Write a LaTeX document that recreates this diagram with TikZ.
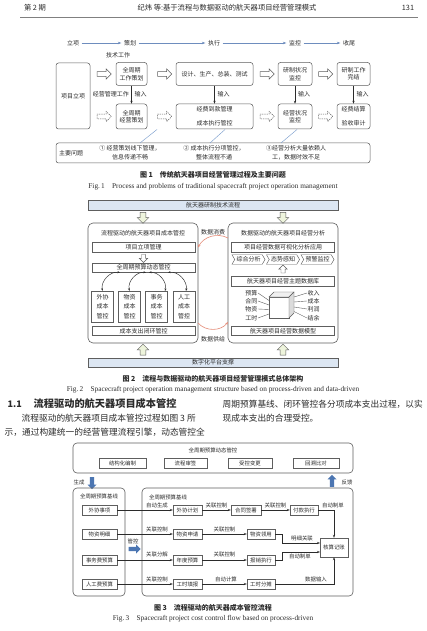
\documentclass[tikz,border=0pt]{standalone}
\usepackage{fontspec}
\setmainfont{Noto Sans CJK SC}
\newfontfamily\enf{Liberation Serif}
\usetikzlibrary{shapes.arrows,shapes.symbols,arrows.meta}
\definecolor{bordc}{HTML}{5E5E5E}
\definecolor{flowblue}{HTML}{6E8DBE}
\definecolor{barblue}{HTML}{DCE6F2}
\definecolor{arrgreen}{HTML}{EEF4DC}
\definecolor{arcred}{HTML}{E58A76}
\definecolor{fatblue}{HTML}{4C76B2}
\definecolor{linkblue}{HTML}{7FA0CF}
\definecolor{txtc}{HTML}{2B2B2B}
\newcommand{\fsa}{\fontsize{6pt}{7.4pt}\selectfont}
\newcommand{\fsb}{\fontsize{5.4pt}{6.6pt}\selectfont}
\newcommand{\fsc}{\fontsize{6pt}{9.6pt}\selectfont}
\newcommand{\fsp}{\fontsize{6pt}{9pt}\selectfont}
\newcommand{\fcap}{\bfseries\fontsize{7pt}{8.4pt}\selectfont}
\newcommand{\fen}{\enf\fontsize{7.3pt}{8.6pt}\selectfont}
\newcommand{\fbody}{\fontsize{8.7pt}{10pt}\selectfont}
\newcommand{\fhead}{\fontsize{7.3pt}{8pt}\selectfont}
\begin{document}
\begin{tikzpicture}[x=1pt,y=-1pt,
  txt/.style={text=txtc, inner sep=0.5pt, align=center, font=\fsa},
  stxt/.style={text=txtc, inner sep=0.3pt, align=center, font=\fsb},
  rbox/.style={draw=bordc, line width=0.5pt, rounded corners=2.5pt, align=center, inner sep=0pt, text=txtc, font=\fsa},
  bigbox/.style={draw=bordc, line width=0.6pt, rounded corners=5pt, inner sep=0pt},
  sbox/.style={draw=bordc, line width=0.45pt, align=center, inner sep=0pt, text=txtc, font=\fsa},
  harr/.style={single arrow, draw=bordc, fill=white, line width=0.45pt, inner sep=0pt, inner ysep=2.2pt, single arrow head extend=2.6pt, minimum height=14pt},
  darr/.style={harr, dash pattern=on 1.3pt off 0.9pt},
  garr/.style={harr, fill=arrgreen, minimum height=11pt, inner ysep=2.6pt, single arrow head extend=3pt},
  warr/.style={harr, minimum height=8pt, inner ysep=1.8pt, single arrow head extend=2.2pt},
  farr/.style={single arrow, fill=fatblue, draw=none, inner sep=0pt, inner ysep=2pt, single arrow head extend=2.3pt, minimum height=12pt},
  flow/.style={draw=flowblue, line width=0.5pt, shorten <=2pt, shorten >=2pt, -{Stealth[length=3.5pt,width=2.6pt]}},
  arr/.style={draw=txtc, line width=0.45pt, -{Stealth[length=3pt,width=2.2pt]}},
  dblarr/.style={draw=txtc, line width=0.45pt, {Stealth[length=2.6pt,width=2pt]}-{Stealth[length=2.6pt,width=2pt]}},
  redarc/.style={draw=arcred, line width=0.6pt, -{Stealth[length=3pt,width=2.4pt]}},
  chev/.style={signal, signal to=east, signal from=west, draw=bordc, line width=0.45pt, inner sep=0.5pt, minimum width=33pt, minimum height=9.5pt, signal pointer angle=120, text=txtc, font=\fsa},
  thin/.style={draw=bordc, line width=0.4pt}
]
\useasboundingbox (0,0) rectangle (427,631);
\fill[white] (0,0) rectangle (427,631);

% ---------- header
\node[txt, font=\fhead] (hd1) at (35,8) {第 2 期};
\node[txt, font=\fhead] (hd2) at (227,8) {纪炜\ 等:基于流程与数据驱动的航天器项目经营管理模式};
\node[txt, font=\fhead] (hd3) at (408,8) {131};
\coordinate (rl1) at (20,17.5); \coordinate (rl2) at (418,17.5);
\draw[line width=0.7pt, draw=gray] (rl1) -- (rl2);

% ---------- Fig 1
\node[txt] (st1) at (73,43) {立项};
\node[txt] (st2) at (130,43) {策划};
\node[txt] (st3) at (214,43) {执行};
\node[txt] (st4) at (295,43) {监控};
\node[txt] (st5) at (349,43) {收尾};
\draw[flow] (st1) -- (st2);
\draw[flow] (st2) -- (st3);
\draw[flow] (st3) -- (st4);
\draw[flow] (st4) -- (st5);
\node[txt] (jsgz) at (118,55) {技术工作};

\node[rbox, minimum width=34pt, minimum height=66pt] (xmlx) at (73,96) {项目立项};
\node[rbox, minimum width=31pt, minimum height=23pt] (a1) at (131.5,74) {全周期\\工作策划};
\node[rbox, minimum width=77pt, minimum height=23pt] (a2) at (214.5,74) {设计、生产、总装、测试};
\node[rbox, minimum width=34pt, minimum height=23pt] (a3) at (295,74) {研制状况\\监控};
\node[rbox, minimum width=33pt, minimum height=23pt] (a4) at (353.5,74) {研制工作\\完结};
\node[rbox, minimum width=31pt, minimum height=25pt] (b1) at (131.5,116.5) {全周期\\经营策划};
\node[rbox, minimum width=77pt, minimum height=25pt] (b2) at (214.5,116.5) {经费到款管理\\[6.5pt]成本执行管控};
\node[rbox, minimum width=34pt, minimum height=25pt] (b3) at (295,116.5) {经营状况\\监控};
\node[rbox, minimum width=33pt, minimum height=25pt] (b4) at (353.5,116.5) {经费结算\\[6.5pt]验收审计};

\node[harr] (h1) at (103,74) {};
\node[harr] (h2) at (163.5,74) {};
\node[harr] (h3) at (266,74) {};
\node[harr] (h4) at (324.5,74) {};
\node[darr] (d1) at (103,116.5) {};
\node[darr] (d2) at (163.5,116.5) {};
\node[darr] (d3) at (266,116.5) {};
\node[darr] (d4) at (324.5,116.5) {};

\draw[arr] (a1) -- (b1);
\draw[arr] (a2) -- (b2);
\draw[arr] (a3) -- (b3);
\draw[arr] (a4) -- (b4);
\node[txt, anchor=east] (jygl) at (129.5,94.5) {经营管理工作};
\node[txt, anchor=west] (sr1) at (134,94.5) {输入};
\node[txt, anchor=west] (sr2) at (217,94.5) {输入};
\node[txt, anchor=west] (sr3) at (297.5,94.5) {输入};
\node[txt, anchor=west] (sr4) at (356,94.5) {输入};

\node[rbox, minimum width=314pt, minimum height=20pt] (prob) at (213,153) {};
\node[txt] (zywt) at (71,153) {主要问题};
\node[txt, font=\fsp] (pr1) at (130,153) {① 经营策划线下管理，\\信息传递不畅};
\node[txt, font=\fsp] (pr2) at (214,153) {② 成本执行分项管控，\\整体流程不通};
\node[txt, font=\fsp] (pr3) at (296,153) {③经营分析大量依赖人\\工，数据时效不足};
\coordinate (q1) at (157,129.5); \coordinate (q1b) at (140,143);
\coordinate (q2) at (225,129.5); \coordinate (q2b) at (210,143);
\coordinate (q3) at (297,129.5); \coordinate (q3b) at (281,143);
\draw[linkblue, line width=0.45pt] (q1) -- (q1b);
\draw[linkblue, line width=0.45pt] (q2) -- (q2b);
\draw[linkblue, line width=0.45pt] (q3) -- (q3b);

\node[txt, font=\fcap] (cap1) at (213,175) {图 1\quad 传统航天器项目经营管理过程及主要问题};
\node[txt, font=\fen] (cap1e) at (213,187) {Fig.\,1\quad Process and problems of traditional spacecraft project operation management};

% ---------- Fig 2
\node[sbox, fill=barblue, minimum width=250pt, minimum height=10pt] (tbar) at (213,205) {航天器研制技术流程};
\node[garr, rotate=-90] (g1) at (143,216.5) {};
\node[garr, rotate=-90] (g2) at (283,216.5) {};

\node[bigbox, minimum width=110pt, minimum height=120pt] (LB2) at (143,283) {};
\node[txt] (lt) at (143,233) {流程驱动的航天器项目成本管控};
\node[sbox, minimum width=103pt, minimum height=9.5pt] (r1) at (143.5,247) {项目立项管理};
\node[warr, rotate=-90] (sa1) at (143.5,257.5) {};
\node[sbox, minimum width=103pt, minimum height=9.5pt] (r2) at (143.5,267.5) {全周期预算动态管控};
\node[sbox, font=\fsc, minimum width=22pt, minimum height=31pt] (c1) at (102.5,306.5) {外协\\成本\\管控};
\node[sbox, font=\fsc, minimum width=22pt, minimum height=31pt] (c2) at (129.5,306.5) {物资\\成本\\管控};
\node[sbox, font=\fsc, minimum width=22pt, minimum height=31pt] (c3) at (156.5,306.5) {事务\\成本\\管控};
\node[sbox, font=\fsc, minimum width=22pt, minimum height=31pt] (c4) at (184,306.5) {人工\\成本\\管控};
\coordinate (k1) at (120,272.5);
\coordinate (k2) at (146,272.5);
\coordinate (k3) at (149,272.5);
\coordinate (k4) at (168,272.5);
\coordinate (e3) at (165,291);
\coordinate (e4) at (186,291);
\draw[dblarr] (c1.north) to[bend left=55] (k1);
\draw[dblarr] (c2.north) to[bend left=55] (k2);
\draw[dblarr] (k3) to[bend left=55] (e3);
\draw[dblarr] (k4) to[bend left=55] (e4);
\node[sbox, minimum width=103pt, minimum height=9pt] (r3) at (143.5,331) {成本支出闭环管控};

\node[bigbox, minimum width=110pt, minimum height=120pt] (RB2) at (283,283) {};
\node[txt] (rt) at (283,233) {数据驱动的航天器项目经营分析};
\node[sbox, minimum width=103pt, minimum height=9.5pt] (s1) at (283,247) {项目经营数据可视化分析应用};
\node[chev] (ch1) at (248.5,259.5) {综合分析};
\node[chev] (ch2) at (283,259.5) {态势感知};
\node[chev] (ch3) at (317.5,259.5) {预警监控};
\node[warr, rotate=90] (sa2) at (283,270) {};
\node[sbox, minimum width=103pt, minimum height=9.5pt] (s2) at (283,281) {航天器项目经营主题数据库};
% cube
\coordinate (cA) at (269,297); \coordinate (cB) at (289,297); \coordinate (cC) at (289,318); \coordinate (cD) at (269,318);
\coordinate (cE) at (274,292); \coordinate (cF) at (294,292); \coordinate (cG) at (294,313);
\filldraw[fill=white, thin] (cA) -- (cB) -- (cC) -- (cD) -- cycle;
\filldraw[fill=gray!12, thin] (cA) -- (cE) -- (cF) -- (cB) -- cycle;
\filldraw[fill=gray!28, thin] (cB) -- (cF) -- (cG) -- (cC) -- cycle;
\node[txt, anchor=east] (ys) at (258,293) {预算};
\node[txt, anchor=east] (ht) at (258,301) {合同};
\node[txt, anchor=east] (wz) at (258,309) {物资};
\node[txt, anchor=east] (gs) at (258,318) {工时};
\coordinate (cl1) at (269,300.5); \coordinate (cl2) at (269,305);
\coordinate (cl3) at (269,309.5); \coordinate (cl4) at (269,314);
\draw[thin] (ys.east) -- (cl1);
\draw[thin] (ht.east) -- (cl2);
\draw[thin] (wz.east) -- (cl3);
\draw[thin] (gs.east) -- (cl4);
\node[txt, anchor=west] (sr) at (307,293) {收入};
\node[txt, anchor=west] (cb) at (307,301) {成本};
\node[txt, anchor=west] (lr) at (307,309) {利润};
\node[txt, anchor=west] (jy) at (307,318) {结余};
\coordinate (cr1) at (294,297); \coordinate (cr2) at (294,302);
\coordinate (cr3) at (294,307); \coordinate (cr4) at (294,311.5);
\draw[thin] (cr1) -- (sr.west);
\draw[thin] (cr2) -- (cb.west);
\draw[thin] (cr3) -- (lr.west);
\draw[thin] (cr4) -- (jy.west);
\node[sbox, minimum width=103pt, minimum height=9pt] (s3) at (283,331) {航天器项目经营数据模型};

\coordinate (x1) at (228,238); \coordinate (x2) at (198,247.5);
\coordinate (x3) at (198,323); \coordinate (x4) at (228,322);
\draw[redarc] (x1) to[bend right=45] (x2);
\draw[redarc] (x3) to[bend right=50] (x4);
\node[txt] (sjxf) at (213,232) {数据消费};
\node[txt] (sjgj) at (213,339) {数据供给};

\node[garr, rotate=90] (g3) at (143,351) {};
\node[garr, rotate=90] (g4) at (283,351) {};
\node[sbox, fill=barblue, minimum width=250pt, minimum height=9.5pt] (bbar) at (213,362.5) {数字化平台支撑};

\node[txt, font=\fcap] (cap2) at (213,379) {图 2\quad 流程与数据驱动的航天器项目经营管理模式总体架构};
\node[txt, font=\fen] (cap2e) at (213,390) {Fig.\,2\quad Spacecraft project operation management structure based on process-driven and data-driven};

% ---------- body text
\node[txt, anchor=west, font=\bfseries\fontsize{9pt}{10pt}\selectfont] (sec) at (7,404) {1.1};
\node[txt, anchor=west, font=\bfseries\fontsize{10.2pt}{11pt}\selectfont] (sect) at (33,404) {流程驱动的航天器项目成本管控};
\node[txt, anchor=west, font=\fbody] (bl2) at (21,418) {流程驱动的航天器项目成本管控过程如图 3 所};
\node[txt, anchor=west, font=\fbody] (bl3) at (4,432) {示，通过构建统一的经营管理流程引擎，动态管控全};
\node[txt, anchor=west, font=\fbody] (br1) at (222,404) {周期预算基线、闭环管控各分项成本支出过程，以实};
\node[txt, anchor=west, font=\fbody] (br2) at (222,418) {现成本支出的合理受控。};

% ---------- Fig 3
\node[bigbox, rounded corners=4pt, minimum width=280pt, minimum height=30pt] (T3) at (213,458) {};
\node[txt, font=\fsb] (t3t) at (213,450) {全周期预算动态管控};
\node[sbox, font=\fsb, minimum width=47pt, minimum height=10pt] (u1) at (122.5,463) {结构化编制};
\node[sbox, font=\fsb, minimum width=43pt, minimum height=10pt] (u2) at (185.5,463) {流程审签};
\node[sbox, font=\fsb, minimum width=44pt, minimum height=10pt] (u3) at (250,463) {受控变更};
\node[sbox, font=\fsb, minimum width=46pt, minimum height=10pt] (u4) at (316,463) {回溯比对};
\node[stxt] (sc) at (79,482) {生成};
\node[farr, rotate=-90] (fa1) at (92,482) {};
\node[stxt] (fk) at (347,482) {反馈};
\node[farr, rotate=90] (fa2) at (332,482) {};

\node[bigbox, rounded corners=4pt, minimum width=52pt, minimum height=108pt] (LB3) at (99,542) {};
\node[stxt] (lb3t) at (99,496) {全周期预算基线};
\node[sbox, font=\fsb, minimum width=35pt, minimum height=9.5pt] (l1) at (99.5,510) {外协事项};
\node[sbox, font=\fsb, minimum width=35pt, minimum height=9.5pt] (l2) at (99.5,534) {物资明细};
\node[sbox, font=\fsb, minimum width=35pt, minimum height=9.5pt] (l3) at (99.5,560) {事务费预算};
\node[sbox, font=\fsb, minimum width=35pt, minimum height=9.5pt] (l4) at (99.5,584) {人工费预算};

\node[bigbox, rounded corners=4pt, minimum width=211pt, minimum height=108pt] (RB3) at (247.5,542) {};
\node[stxt] (rb3t) at (168,497) {全周期预算基线};
\node[sbox, font=\fsb, minimum width=29pt, minimum height=9.5pt] (m1) at (187.5,510) {外协计划};
\node[sbox, font=\fsb, minimum width=29pt, minimum height=9.5pt] (m2) at (187.5,534) {物资申请};
\node[sbox, font=\fsb, minimum width=29pt, minimum height=9.5pt] (m3) at (187.5,560) {年度预算};
\node[sbox, font=\fsb, minimum width=29pt, minimum height=9.5pt] (m4) at (187.5,584) {工时填报};
\node[sbox, font=\fsb, minimum width=30pt, minimum height=9.5pt] (n1) at (246,510) {合同签署};
\node[sbox, font=\fsb, minimum width=28pt, minimum height=9.5pt] (pf) at (304,510) {付款执行};
\node[sbox, font=\fsb, minimum width=28pt, minimum height=9.5pt] (n2) at (261,534) {物资领用};
\node[sbox, font=\fsb, minimum width=28pt, minimum height=9.5pt] (n3) at (261,560) {报销执行};
\node[sbox, font=\fsb, minimum width=28pt, minimum height=9.5pt] (n4) at (261,584) {工时分摊};
\node[sbox, font=\fsb, minimum width=28pt, minimum height=19pt] (kh) at (334,547.5) {核算记账};

\draw[arr] (l1) -- (m1);
\draw[arr] (l2) -- (m2);
\draw[arr] (l3) -- (m3);
\draw[arr] (l4) -- (m4);
\node[stxt] (w1) at (157,505) {自动生成};
\node[stxt] (w2) at (157,529) {关联控制};
\node[stxt] (w3) at (157,554.5) {关联分解};
\node[stxt] (w4) at (157,579) {关联控制};
\draw[arr] (m1) -- (n1);
\draw[arr] (m2) -- (n2);
\draw[arr] (m3) -- (n3);
\draw[arr] (m4) -- (n4);
\node[stxt] (v1) at (216.5,505) {关联控制};
\node[stxt] (v2) at (224.5,529) {关联控制};
\node[stxt] (v3) at (224.5,554.5) {关联控制};
\node[stxt] (v4) at (226,579) {自动计算};
\draw[arr] (n1) -- (pf);
\node[stxt] (v5) at (275.5,505) {关联控制};
\draw[arr] (pf) -| (kh);
\node[stxt] (v6) at (333,505) {自动制单};
\coordinate (kw2) at (320,543);
\coordinate (kw3) at (320,552);
\draw[arr] (n2.east) -- ++(7,0) |- (kw2);
\node[stxt] (v7) at (302,538.5) {明细关联};
\draw[arr] (n3.east) -- ++(7,0) |- (kw3);
\node[stxt] (v8) at (300,556.5) {自动制单};
\draw[arr] (n4) -| (kh);
\node[stxt] (v9) at (316,579) {数据输入};
\node[stxt] (gk) at (133,541) {管控};
\node[farr] (fa3) at (133.5,549) {};

\node[txt, font=\fcap] (cap3) at (213,608) {图 3\quad 流程驱动的航天器成本管控流程};
\node[txt, font=\fen] (cap3e) at (213,619) {Fig.\,3\quad Spacecraft project cost control flow based on process-driven};
\end{tikzpicture}
\end{document}
